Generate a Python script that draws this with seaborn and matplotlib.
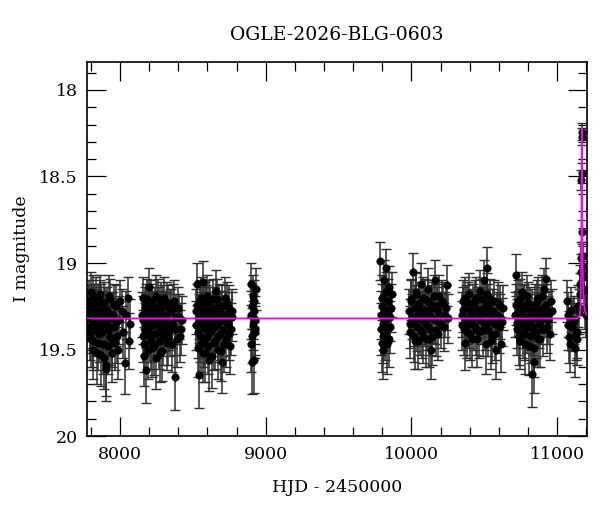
import numpy as np
import pandas as pd
import seaborn as sns
import matplotlib
matplotlib.use('Agg')
import matplotlib.pyplot as plt
from matplotlib.ticker import MultipleLocator, FormatStrFormatter

# Photometry, lists per observing season
t1 = [7783, 7790, 7796, 7801, 7807, 7812, 7818, 7824, 7829, 7835, 7841, 7846, 7852, 7858, 7864, 7870, 7876, 7882,
      7888, 7895, 7901, 7907, 7914, 7921, 7928, 7935, 7943, 7951, 7960, 7970, 7981, 7995, 8012, 8033, 8052, 8066]
m1 = [19.31, 19.22, 19.40, 19.28, 19.35, 19.19, 19.45, 19.30, 19.26, 19.38, 19.52, 19.24, 19.33, 19.41, 19.18, 19.36, 19.29, 19.47,
      19.23, 19.34, 19.59, 19.61, 19.27, 19.39, 19.32, 19.21, 19.44, 19.30, 19.37, 19.25, 19.42, 19.33, 19.28, 19.58, 19.20, 19.35]
e1 = [0.14, 0.12, 0.16, 0.13, 0.14, 0.12, 0.17, 0.13, 0.12, 0.15, 0.18, 0.12, 0.14, 0.16, 0.11, 0.14, 0.13, 0.17,
      0.12, 0.14, 0.18, 0.19, 0.13, 0.15, 0.14, 0.12, 0.16, 0.13, 0.15, 0.12, 0.16, 0.14, 0.13, 0.18, 0.12, 0.14]
t1b = [7786, 7793, 7799, 7804, 7810, 7815, 7821, 7827, 7832, 7838, 7844, 7849, 7855, 7861, 7867, 7873, 7879,
       7885, 7892, 7898, 7911, 7918, 7925, 7932, 7939, 7947, 7956, 7965, 7976, 7988, 8003, 8022, 8042, 8060]
m1b = [19.26, 19.37, 19.17, 19.44, 19.29, 19.50, 19.24, 19.39, 19.33, 19.20, 19.28, 19.46, 19.37, 19.22, 19.53, 19.25, 19.40,
       19.31, 19.55, 19.27, 19.35, 19.48, 19.19, 19.43, 19.30, 19.52, 19.24, 19.46, 19.34, 19.50, 19.22, 19.40, 19.30, 19.45]
e1b = [0.13, 0.15, 0.12, 0.16, 0.13, 0.17, 0.12, 0.15, 0.14, 0.12, 0.13, 0.16, 0.15, 0.12, 0.18, 0.13, 0.15,
       0.14, 0.18, 0.13, 0.14, 0.16, 0.12, 0.16, 0.13, 0.17, 0.12, 0.16, 0.14, 0.17, 0.12, 0.15, 0.14, 0.16]

t2 = [8152, 8158, 8164, 8170, 8176, 8182, 8188, 8194, 8200, 8206, 8212, 8218, 8224, 8230, 8237, 8244, 8251, 8258,
      8265, 8272, 8279, 8286, 8293, 8300, 8308, 8316, 8324, 8332, 8341, 8350, 8360, 8370, 8381, 8392, 8405, 8420]
m2 = [19.30, 19.42, 19.54, 19.26, 19.35, 19.62, 19.21, 19.38, 19.14, 19.31, 19.45, 19.24, 19.36, 19.29, 19.48, 19.19, 19.33, 19.40,
      19.27, 19.52, 19.23, 19.34, 19.43, 19.20, 19.37, 19.30, 19.46, 19.25, 19.39, 19.28, 19.35, 19.22, 19.66, 19.44, 19.31, 19.38]
e2 = [0.13, 0.15, 0.17, 0.12, 0.14, 0.19, 0.12, 0.15, 0.11, 0.13, 0.16, 0.12, 0.14, 0.13, 0.17, 0.12, 0.14, 0.15,
      0.13, 0.17, 0.12, 0.14, 0.16, 0.12, 0.14, 0.13, 0.16, 0.12, 0.15, 0.13, 0.14, 0.12, 0.19, 0.16, 0.13, 0.15]
t2b = [8155, 8161, 8167, 8173, 8179, 8185, 8191, 8197, 8203, 8209, 8215, 8221, 8227, 8234, 8241, 8248, 8255,
       8262, 8269, 8276, 8283, 8290, 8297, 8304, 8312, 8320, 8328, 8337, 8346, 8355, 8365, 8376, 8387, 8399, 8412, 8428]
m2b = [19.20, 19.33, 19.47, 19.38, 19.24, 19.31, 19.50, 19.27, 19.42, 19.35, 19.22, 19.49, 19.30, 19.41, 19.26, 19.55, 19.34,
       19.21, 19.45, 19.36, 19.29, 19.51, 19.25, 19.39, 19.32, 19.23, 19.43, 19.36, 19.28, 19.47, 19.24, 19.38, 19.31, 19.26, 19.42, 19.33]
e2b = [0.12, 0.14, 0.16, 0.15, 0.12, 0.13, 0.17, 0.13, 0.15, 0.14, 0.12, 0.17, 0.13, 0.15, 0.12, 0.18, 0.14,
       0.12, 0.16, 0.14, 0.13, 0.17, 0.12, 0.15, 0.14, 0.12, 0.16, 0.14, 0.13, 0.16, 0.12, 0.15, 0.13, 0.12, 0.15, 0.14]

t3 = [8522, 8528, 8534, 8540, 8546, 8552, 8558, 8564, 8570, 8576, 8582, 8588, 8594, 8600, 8607, 8614, 8621, 8628,
      8635, 8642, 8649, 8656, 8663, 8670, 8678, 8686, 8694, 8702, 8711, 8720, 8730, 8740, 8751, 8762, 8772]
m3 = [19.28, 19.12, 19.40, 19.65, 19.33, 19.22, 19.47, 19.30, 19.11, 19.37, 19.52, 19.25, 19.43, 19.19, 19.34, 19.56, 19.27, 19.39,
      19.21, 19.46, 19.31, 19.16, 19.36, 19.50, 19.24, 19.41, 19.29, 19.57, 19.33, 19.20, 19.44, 19.35, 19.26, 19.38, 19.31]
e3 = [0.13, 0.12, 0.15, 0.19, 0.14, 0.12, 0.16, 0.13, 0.12, 0.14, 0.17, 0.12, 0.15, 0.12, 0.14, 0.18, 0.13, 0.15,
      0.12, 0.16, 0.13, 0.12, 0.14, 0.17, 0.12, 0.15, 0.13, 0.18, 0.14, 0.12, 0.16, 0.14, 0.13, 0.15, 0.14]
t3b = [8525, 8531, 8537, 8543, 8549, 8555, 8561, 8567, 8573, 8579, 8585, 8591, 8597, 8604, 8611, 8618, 8625, 8632,
       8639, 8646, 8653, 8660, 8667, 8674, 8682, 8690, 8698, 8707, 8716, 8725, 8735, 8746, 8757, 8767]
m3b = [19.36, 19.24, 19.49, 19.31, 19.42, 19.20, 19.35, 19.52, 19.27, 19.44, 19.23, 19.38, 19.30, 19.48, 19.22, 19.40, 19.33, 19.54,
       19.26, 19.37, 19.45, 19.29, 19.21, 19.42, 19.34, 19.51, 19.25, 19.39, 19.47, 19.30, 19.23, 19.41, 19.48, 19.28]
e3b = [0.14, 0.12, 0.17, 0.13, 0.15, 0.12, 0.14, 0.17, 0.13, 0.16, 0.12, 0.15, 0.13, 0.16, 0.12, 0.15, 0.14, 0.18,
       0.12, 0.14, 0.16, 0.13, 0.12, 0.15, 0.14, 0.17, 0.12, 0.15, 0.16, 0.13, 0.12, 0.15, 0.16, 0.13]

t4 = [8898, 8901, 8904, 8906, 8909, 8911, 8914, 8917, 8920, 8923, 8926, 8929, 8932, 8902, 8913, 8924]
m4 = [19.30, 19.12, 19.42, 19.25, 19.57, 19.19, 19.36, 19.28, 19.56, 19.22, 19.33, 19.40, 19.15, 19.47, 19.31, 19.38]
e4 = [0.14, 0.12, 0.16, 0.13, 0.19, 0.12, 0.14, 0.13, 0.19, 0.12, 0.14, 0.15, 0.12, 0.16, 0.13, 0.15]

t5 = [9786, 9791, 9795, 9800, 9804, 9808, 9812, 9817, 9821, 9826, 9830, 9835, 9840, 9846, 9852, 9858, 9865,
      9788, 9797, 9806, 9815, 9824, 9833, 9843, 9855]
m5 = [18.99, 19.30, 19.46, 19.20, 19.35, 19.50, 19.10, 19.27, 19.40, 19.03, 19.32, 19.47, 19.22, 19.14, 19.37, 19.26, 19.18,
      19.38, 19.25, 19.42, 19.33, 19.17, 19.29, 19.44, 19.31]
e5 = [0.11, 0.14, 0.17, 0.13, 0.15, 0.17, 0.12, 0.14, 0.16, 0.11, 0.14, 0.17, 0.13, 0.12, 0.15, 0.14, 0.13,
      0.15, 0.13, 0.16, 0.14, 0.12, 0.14, 0.16, 0.14]

t6 = [9984, 9992, 10000, 10010, 10018, 10026, 10034, 10042, 10050, 10058, 10066, 10074, 10082, 10090, 10098,
      10106, 10114, 10122, 10131, 10140, 10149, 10158, 10168, 10178, 10190, 10202, 10215, 10230, 10245]
m6 = [19.28, 19.40, 19.22, 19.05, 19.34, 19.45, 19.17, 19.30, 19.26, 19.38, 19.12, 19.33, 19.42, 19.21, 19.29,
      19.36, 19.15, 19.44, 19.50, 19.24, 19.32, 19.10, 19.39, 19.27, 19.19, 19.35, 19.23, 19.30, 19.13]
e6 = [0.13, 0.15, 0.12, 0.11, 0.14, 0.16, 0.12, 0.13, 0.13, 0.15, 0.12, 0.14, 0.16, 0.12, 0.13,
      0.14, 0.12, 0.16, 0.17, 0.13, 0.14, 0.12, 0.15, 0.13, 0.12, 0.14, 0.12, 0.13, 0.12]
t6b = [9988, 9996, 10005, 10014, 10022, 10030, 10038, 10046, 10054, 10062, 10070, 10078, 10086, 10094, 10102,
       10110, 10118, 10126, 10135, 10144, 10153, 10163, 10173, 10184, 10196, 10208, 10222, 10237, 10250]
m6b = [19.35, 19.21, 19.31, 19.42, 19.26, 19.18, 19.37, 19.45, 19.23, 19.31, 19.40, 19.20, 19.27, 19.34, 19.44,
       19.22, 19.30, 19.38, 19.26, 19.43, 19.19, 19.33, 19.25, 19.41, 19.30, 19.22, 19.37, 19.26, 19.32]
e6b = [0.14, 0.12, 0.13, 0.15, 0.13, 0.12, 0.14, 0.16, 0.12, 0.13, 0.15, 0.12, 0.13, 0.14, 0.16,
       0.12, 0.13, 0.15, 0.13, 0.16, 0.12, 0.14, 0.13, 0.15, 0.13, 0.12, 0.14, 0.13, 0.14]

t7 = [10345, 10352, 10360, 10368, 10376, 10384, 10392, 10400, 10410, 10420, 10430, 10440, 10450, 10460, 10470, 10480,
      10490, 10500, 10508, 10515, 10522, 10530, 10540, 10550, 10560, 10570, 10580, 10592, 10604, 10616, 10630]
m7 = [19.30, 19.22, 19.38, 19.46, 19.26, 19.33, 19.18, 19.41, 19.29, 19.24, 19.36, 19.20, 19.44, 19.31, 19.16, 19.27,
      19.39, 19.10, 19.47, 19.03, 19.25, 19.34, 19.21, 19.42, 19.28, 19.35, 19.50, 19.23, 19.31, 19.47, 19.26]
e7 = [0.13, 0.12, 0.15, 0.16, 0.13, 0.14, 0.12, 0.15, 0.13, 0.12, 0.14, 0.12, 0.16, 0.13, 0.12, 0.13,
      0.15, 0.12, 0.17, 0.12, 0.13, 0.14, 0.12, 0.16, 0.13, 0.14, 0.17, 0.12, 0.13, 0.16, 0.13]
t7b = [10348, 10356, 10364, 10372, 10380, 10388, 10396, 10405, 10415, 10425, 10435, 10445, 10455, 10465, 10475,
       10485, 10495, 10504, 10512, 10519, 10526, 10535, 10545, 10555, 10565, 10575, 10586, 10598, 10610, 10623]
m7b = [19.36, 19.27, 19.20, 19.33, 19.40, 19.23, 19.35, 19.28, 19.44, 19.31, 19.22, 19.38, 19.27, 19.40, 19.33,
       19.21, 19.30, 19.36, 19.24, 19.18, 19.39, 19.28, 19.45, 19.32, 19.22, 19.41, 19.30, 19.37, 19.25, 19.34]
e7b = [0.14, 0.13, 0.12, 0.14, 0.15, 0.12, 0.14, 0.13, 0.16, 0.13, 0.12, 0.15, 0.13, 0.15, 0.14,
       0.12, 0.13, 0.14, 0.12, 0.12, 0.15, 0.13, 0.16, 0.14, 0.12, 0.15, 0.13, 0.15, 0.12, 0.14]

t8 = [10710, 10718, 10726, 10734, 10742, 10750, 10758, 10766, 10774, 10782, 10790, 10798, 10806, 10814, 10822,
      10830, 10838, 10846, 10854, 10862, 10870, 10880, 10890, 10900, 10910, 10920, 10932, 10944, 10956]
m8 = [19.30, 19.07, 19.38, 19.22, 19.45, 19.28, 19.17, 19.35, 19.25, 19.41, 19.19, 19.32, 19.48, 19.27, 19.36,
      19.64, 19.57, 19.24, 19.40, 19.30, 19.20, 19.44, 19.33, 19.26, 19.15, 19.09, 19.37, 19.29, 19.22]
e8 = [0.13, 0.12, 0.15, 0.12, 0.16, 0.13, 0.12, 0.14, 0.13, 0.15, 0.12, 0.14, 0.17, 0.13, 0.14,
      0.19, 0.18, 0.12, 0.15, 0.13, 0.12, 0.16, 0.14, 0.13, 0.12, 0.12, 0.15, 0.13, 0.12]
t8b = [10714, 10722, 10730, 10738, 10746, 10754, 10762, 10770, 10778, 10786, 10794, 10802, 10810, 10818, 10826,
       10834, 10842, 10850, 10858, 10866, 10875, 10885, 10895, 10905, 10915, 10926, 10938, 10950, 10962]
m8b = [19.24, 19.35, 19.29, 19.43, 19.21, 19.33, 19.40, 19.26, 19.47, 19.31, 19.37, 19.23, 19.34, 19.42, 19.28,
       19.38, 19.49, 19.31, 19.22, 19.44, 19.35, 19.27, 19.19, 19.39, 19.30, 19.24, 19.33, 19.41, 19.28]
e8b = [0.12, 0.14, 0.13, 0.16, 0.12, 0.14, 0.15, 0.13, 0.17, 0.13, 0.15, 0.12, 0.14, 0.16, 0.13,
       0.15, 0.17, 0.13, 0.12, 0.16, 0.14, 0.13, 0.12, 0.15, 0.13, 0.12, 0.14, 0.15, 0.13]

t9 = [11066, 11072, 11080, 11090, 11100, 11110, 11120, 11128, 11135, 11142, 11148, 11153, 11157, 11160, 11163,
      11166, 11168, 11169, 11170, 11172, 11174, 11177, 11180, 11184, 11190, 11196, 11076, 11094, 11115, 11138]
m9 = [19.22, 19.30, 19.43, 19.47, 19.37, 19.34, 19.49, 19.41, 19.44, 19.25, 19.28, 19.18, 19.12, 19.05, 18.97,
      18.52, 18.27, 18.24, 18.48, 18.82, 18.96, 19.02, 19.08, 19.15, 19.26, 19.30, 19.36, 19.27, 19.33, 19.40]
e9 = [0.12, 0.13, 0.15, 0.16, 0.14, 0.14, 0.17, 0.15, 0.15, 0.12, 0.13, 0.12, 0.11, 0.10, 0.09,
      0.06, 0.05, 0.05, 0.06, 0.07, 0.08, 0.08, 0.09, 0.10, 0.12, 0.13, 0.14, 0.13, 0.14, 0.15]

# Fitted model curve (flat baseline with a narrow peak)
model_t = [7776, 11140, 11150, 11156, 11160, 11163, 11166, 11168, 11169, 11170, 11172, 11175, 11178, 11183, 11190, 11202]
model_m = [19.32, 19.32, 19.31, 19.29, 19.24, 19.10, 18.80, 18.40, 18.22, 18.30, 18.70, 19.00, 19.15, 19.24, 19.28, 19.30]

seasons = [(t1, m1, e1), (t1b, m1b, e1b), (t2, m2, e2), (t2b, m2b, e2b), (t3, m3, e3), (t3b, m3b, e3b),
           (t4, m4, e4), (t5, m5, e5), (t6, m6, e6), (t6b, m6b, e6b), (t7, m7, e7), (t7b, m7b, e7b),
           (t8, m8, e8), (t8b, m8b, e8b), (t9, m9, e9)]
phot = pd.concat([pd.DataFrame({'hjd': t, 'mag': m, 'err': e}) for t, m, e in seasons], ignore_index=True)
model = pd.DataFrame({'hjd': model_t, 'mag': model_m})

sns.set_theme(style='ticks')
plt.rcParams['font.family'] = ['DejaVu Serif']

fig = plt.figure(figsize=(6, 5.12), dpi=100)
ax = fig.add_axes([0.1455, 0.1484, 0.8323, 0.7299])

ax.errorbar(phot['hjd'], phot['mag'], yerr=phot['err'], fmt='none', ecolor='#2e2e2e',
            elinewidth=1.1, capsize=3.4, capthick=1.0, zorder=2)
sns.scatterplot(data=phot, x='hjd', y='mag', ax=ax, color='black', s=30, edgecolor='black',
                linewidth=0.3, zorder=3, legend=False)
sns.lineplot(data=model, x='hjd', y='mag', ax=ax, color='#ff00ff', linewidth=1.2,
             zorder=4, estimator=None, sort=False)

ax.set_xlim(7776, 11202)
ax.set_ylim(20.0, 17.84)

ax.xaxis.set_major_locator(MultipleLocator(1000))
ax.xaxis.set_minor_locator(MultipleLocator(200))
ax.yaxis.set_major_locator(MultipleLocator(0.5))
ax.yaxis.set_minor_locator(MultipleLocator(0.1))
ax.yaxis.set_major_formatter(FormatStrFormatter('%g'))

ax.tick_params(which='both', direction='in', top=True, right=True, color='black', labelsize=12.5,
               labelcolor='black')
ax.tick_params(which='major', length=13.5, width=0.9, pad=7)
ax.tick_params(which='minor', length=6.7, width=0.9)
for sp in ax.spines.values():
    sp.set_visible(True)
    sp.set_color('black')
    sp.set_linewidth(1.2)

ax.set_title('OGLE-2026-BLG-0603', fontsize=13.5, pad=16, color='black')
ax.set_xlabel('HJD - 2450000', fontsize=12.5, labelpad=12, color='black')
ax.set_ylabel('I magnitude', fontsize=12.5, labelpad=6, color='black')

fig.savefig('out.png', dpi=100)
